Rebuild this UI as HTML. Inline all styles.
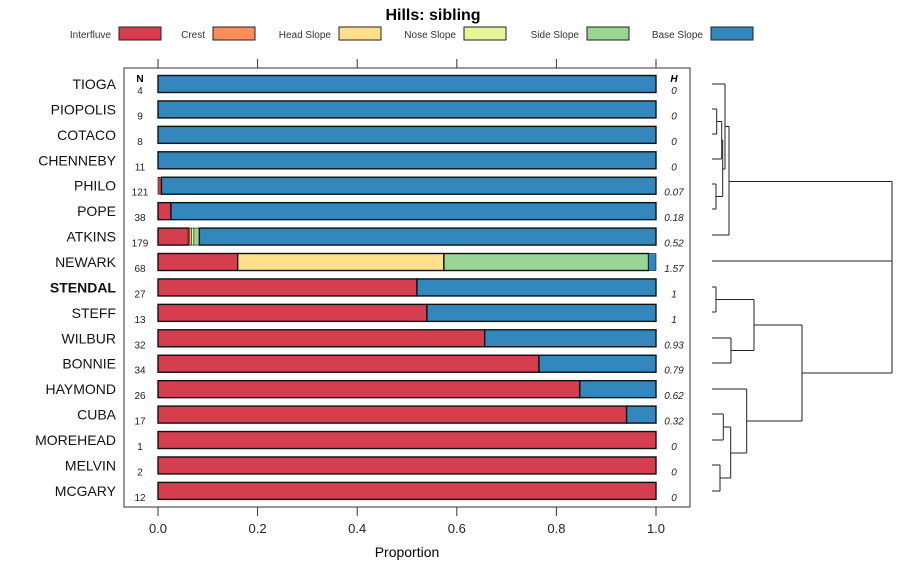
<!DOCTYPE html>
<html><head><meta charset="utf-8">
<style>
body{margin:0;background:#fff;}
svg{display:block;font-family:"Liberation Sans",sans-serif;}
</style></head>
<body>
<svg id="chart" width="900" height="580">
<text x="433" y="20" text-anchor="middle" font-size="16" font-weight="bold">Hills: sibling</text>
<g id="legend"></g>
<rect x="124" y="68" width="566" height="439" fill="none" stroke="#333"/>
<g id="axes"></g>
<g id="bars"></g>
<g id="dendro"></g>
<text x="407" y="557" text-anchor="middle" font-size="14">Proportion</text>
</svg>
<script>
const classes=["Interfluve","Crest","Head Slope","Nose Slope","Side Slope","Base Slope"];
const colors=["#D53E4F","#FC8D59","#FEE08B","#E6F598","#99D594","#3288BD"];
const soils=["TIOGA","PIOPOLIS","COTACO","CHENNEBY","PHILO","POPE","ATKINS","NEWARK","STENDAL","STEFF","WILBUR","BONNIE","HAYMOND","CUBA","MOREHEAD","MELVIN","MCGARY"];
const counts=[4,9,8,11,121,38,179,68,27,13,32,34,26,17,1,2,12];
const entropy=["0","0","0","0","0.07","0.18","0.52","1.57","1","1","0.93","0.79","0.62","0.32","0","0","0"];
const interfluve=[0,0,0,0,0.007,0.026,0.061,0.16,0.52,0.54,0.656,0.765,0.847,0.941,1,1,1];
const crest=[0,0,0,0,0,0,0.003,0,0,0,0,0,0,0,0,0,0];
const headSlope=[0,0,0,0,0,0,0.003,0.414,0,0,0,0,0,0,0,0,0];
const noseSlope=[0,0,0,0,0,0,0.005,0,0,0,0,0,0,0,0,0,0];
const sideSlope=[0,0,0,0,0,0,0.011,0.411,0,0,0,0,0,0,0,0,0];
const baseSlope=[1,1,1,1,0.993,0.974,0.917,0.015,0.48,0.46,0.344,0.235,0.153,0.059,0,0,0];
const ticks=[0,0.2,0.4,0.6,0.8,1.0];
const tickLabels=["0.0","0.2","0.4","0.6","0.8","1.0"];
const boldSoil="STENDAL";
const NS="http://www.w3.org/2000/svg";
function mk(tag,attrs,parent,txt){const e=document.createElementNS(NS,tag);for(const k in attrs)e.setAttribute(k,attrs[k]);if(txt!==undefined)e.textContent=txt;parent.appendChild(e);return e;}
const X=v=>158+v*498;
const Y=i=>84+i*25.43;
// legend
const lg=document.getElementById('legend');
const lx=[119,213,339,464,587,711];
classes.forEach((c,i)=>{
  const t=mk('text',{x:lx[i]-8,y:38,'text-anchor':'end','font-size':10,fill:'#333'},lg,c);
  
  
  const r=mk('rect',{x:lx[i],y:27,width:42,height:13,fill:colors[i],stroke:'#222','stroke-width':1},lg);
  
  
});
// axes
const ax=document.getElementById('axes');
ticks.forEach((t,i)=>{
  const a=mk('line',{x1:X(t),x2:X(t),y1:59,y2:68,stroke:'#333'},ax);
  
  
  const b=mk('line',{x1:X(t),x2:X(t),y1:507,y2:516,stroke:'#333'},ax);
  
  
  const l=mk('text',{x:X(t),y:533,'text-anchor':'middle','font-size':13,fill:'#222'},ax,tickLabels[i]);
  
  
});
const nh=mk('text',{x:140,y:82,'text-anchor':'middle','font-size':10,'font-weight':'bold'},ax,'N');


const hh=mk('text',{x:674,y:82,'text-anchor':'middle','font-size':10,'font-weight':'bold','font-style':'italic'},ax,'H');


// bars
const bg=document.getElementById('bars');
const series=[interfluve,crest,headSlope,noseSlope,sideSlope,baseSlope];
soils.forEach((s,i)=>{
  const y=Y(i);
  const lab=mk('text',{x:116,y:y+5,'text-anchor':'end','font-size':14,'font-weight':s===boldSoil?'bold':'normal',fill:'#111'},bg,s);
  
  
  const n=mk('text',{x:140,y:y+10,'text-anchor':'middle','font-size':10,fill:'#222'},bg,String(counts[i]));
  
  
  const h=mk('text',{x:674,y:y+10,'text-anchor':'middle','font-size':10,'font-style':'italic',fill:'#222'},bg,entropy[i]);
  
  
  let cum=0;
  series.forEach((ser,k)=>{
    const v=ser[i];
    if(v>0){
      const r=mk('rect',{x:X(cum),y:y-8.5,width:X(cum+v)-X(cum),height:17,fill:colors[k],stroke:'#111','stroke-width':v<0.02?0.6:1.4},bg);
      
      
    }
    cum+=v;
  });
});
// dendrogram
const dg=document.getElementById('dendro');
const segs=[
 [712,109,716.7,109],[712,134,716.7,134],[716.7,109,716.7,134],
 [716.7,121.5,721.7,121.5],[712,159,721.7,159],[721.7,121.5,721.7,159],
 [712,184,716,184],[712,209,716,209],[716,184,716,209],
 [721.7,140,722.7,140],[716,196.5,722.7,196.5],[722.7,140,722.7,196.5],
 [712,84,725,84],[722.7,169,725,169],[725,84,725,169],
 [725,126.5,729,126.5],[712,235,729,235],[729,126.5,729,235],
 [729,181.5,892,181.5],[712,261,892,261],
 [712,287,716,287],[712,312,716,312],[716,287,716,312],
 [712,338,731,338],[712,363,731,363],[731,338,731,363],
 [716,299.5,754,299.5],[731,350.5,754,350.5],[754,299.5,754,350.5],
 [712,414,723.3,414],[712,440,723.3,440],[723.3,414,723.3,440],
 [712,465,720,465],[712,491,720,491],[720,465,720,491],
 [723.3,427,730.7,427],[720,478,730.7,478],[730.7,427,730.7,478],
 [712,389,746.7,389],[730.7,453,746.7,453],[746.7,389,746.7,453],
 [754,325,802,325],[746.7,421,802,421],[802,325,802,421],
 [802,373,892,373],[892,181.5,892,373]
];
segs.forEach(s=>{mk('line',{x1:s[0],y1:s[1],x2:s[2],y2:s[3],stroke:'#222','stroke-width':1},dg);});
</script>
</body></html>
